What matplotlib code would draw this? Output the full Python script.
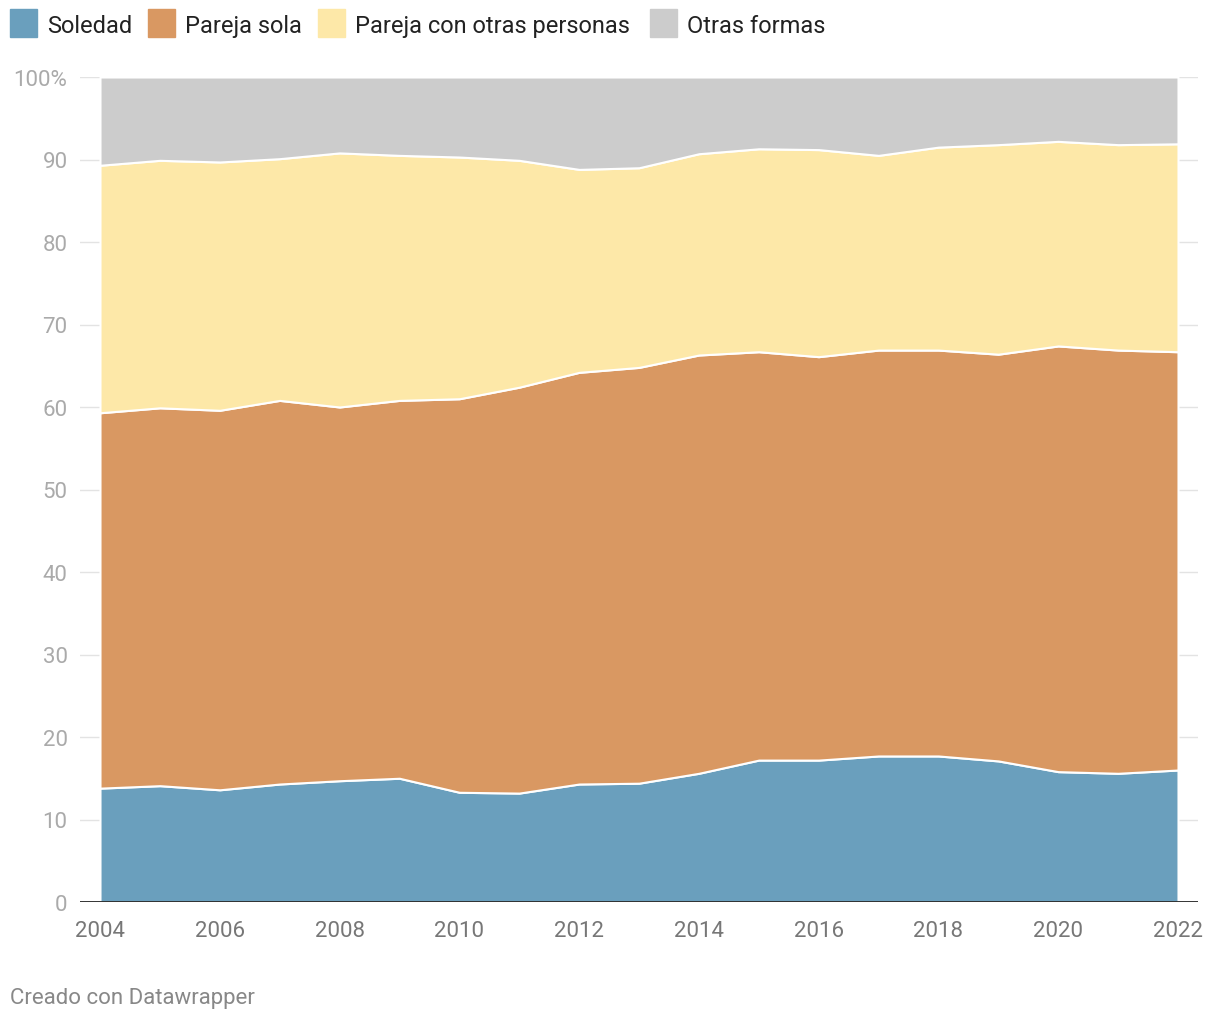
import matplotlib
matplotlib.use("Agg")
import matplotlib.pyplot as plt
from matplotlib.patches import Rectangle

plt.rcParams['font.family'] = ['Roboto', 'DejaVu Sans']

years = list(range(2004, 2023))
# share of each living arrangement (%)
soledad = [13.8, 14.1, 13.6, 14.3, 14.7, 15.0, 13.3, 13.2, 14.3, 14.4,
           15.6, 17.2, 17.2, 17.7, 17.7, 17.1, 15.8, 15.6, 16.0]
pareja_sola = [45.5, 45.8, 46.0, 46.5, 45.3, 45.8, 47.7, 49.2, 49.9, 50.4,
               50.7, 49.5, 48.9, 49.2, 49.2, 49.3, 51.6, 51.3, 50.7]
pareja_otras = [30.0, 30.0, 30.1, 29.3, 30.8, 29.7, 29.3, 27.5, 24.6, 24.2,
                24.4, 24.6, 25.1, 23.6, 24.6, 25.4, 24.8, 24.9, 25.2]
otras = [10.7, 10.1, 10.3, 9.9, 9.2, 9.5, 9.7, 10.1, 11.2, 11.0,
         9.3, 8.7, 8.8, 9.5, 8.5, 8.2, 7.8, 8.2, 8.1]

labels = ["Soledad", "Pareja sola", "Pareja con otras personas", "Otras formas"]
colors = ["#6a9fbd", "#d99862", "#fde8a8", "#cccccc"]
yticks = [0, 10, 20, 30, 40, 50, 60, 70, 80, 90, 100]

fig = plt.figure(figsize=(12.2, 10.2), dpi=100)
ax = fig.add_axes([80 / 1220, 1 - 903 / 1020, 1118 / 1220, 825 / 1020])

ax.stackplot(years, soledad, pareja_sola, pareja_otras, otras,
             colors=colors, edgecolor="white", linewidth=1.5, zorder=2)

ax.set_xlim(2004 - 20 / 59.9, 2022 + 20 / 59.9)
ax.set_ylim(0, 100)
ax.set_yticks(yticks)
ax.set_yticklabels([str(v) if v < 100 else "100%" for v in yticks])
ax.set_xticks(years[::2])
ax.grid(axis="y", color="#e3e3e3", linewidth=1, zorder=1)
ax.axhline(0, color="#222222", linewidth=2, zorder=3)
for s in ax.spines.values():
    s.set_visible(False)
ax.tick_params(axis="y", length=0, pad=9, labelsize=16, labelcolor="#aaaaaa")
ax.tick_params(axis="x", length=0, pad=13, labelsize=16, labelcolor="#777777")

# legend drawn by hand, Datawrapper style
leg_x = [10, 148, 318, 650]
for x, lab, c in zip(leg_x, labels, colors):
    fig.patches.append(Rectangle((x / 1220, 1 - 38 / 1020), 27 / 1220, 28 / 1020,
                                 transform=fig.transFigure, color=c))
    fig.text((x + 37) / 1220, 1 - 33 / 1020, lab, fontsize=17,
             color="#222222", va="baseline", ha="left")

fig.text(10 / 1220, 1 - 1004 / 1020, "Creado con Datawrapper", fontsize=16,
         color="#888888", va="baseline", ha="left")

plt.savefig("out.png", dpi=100)
